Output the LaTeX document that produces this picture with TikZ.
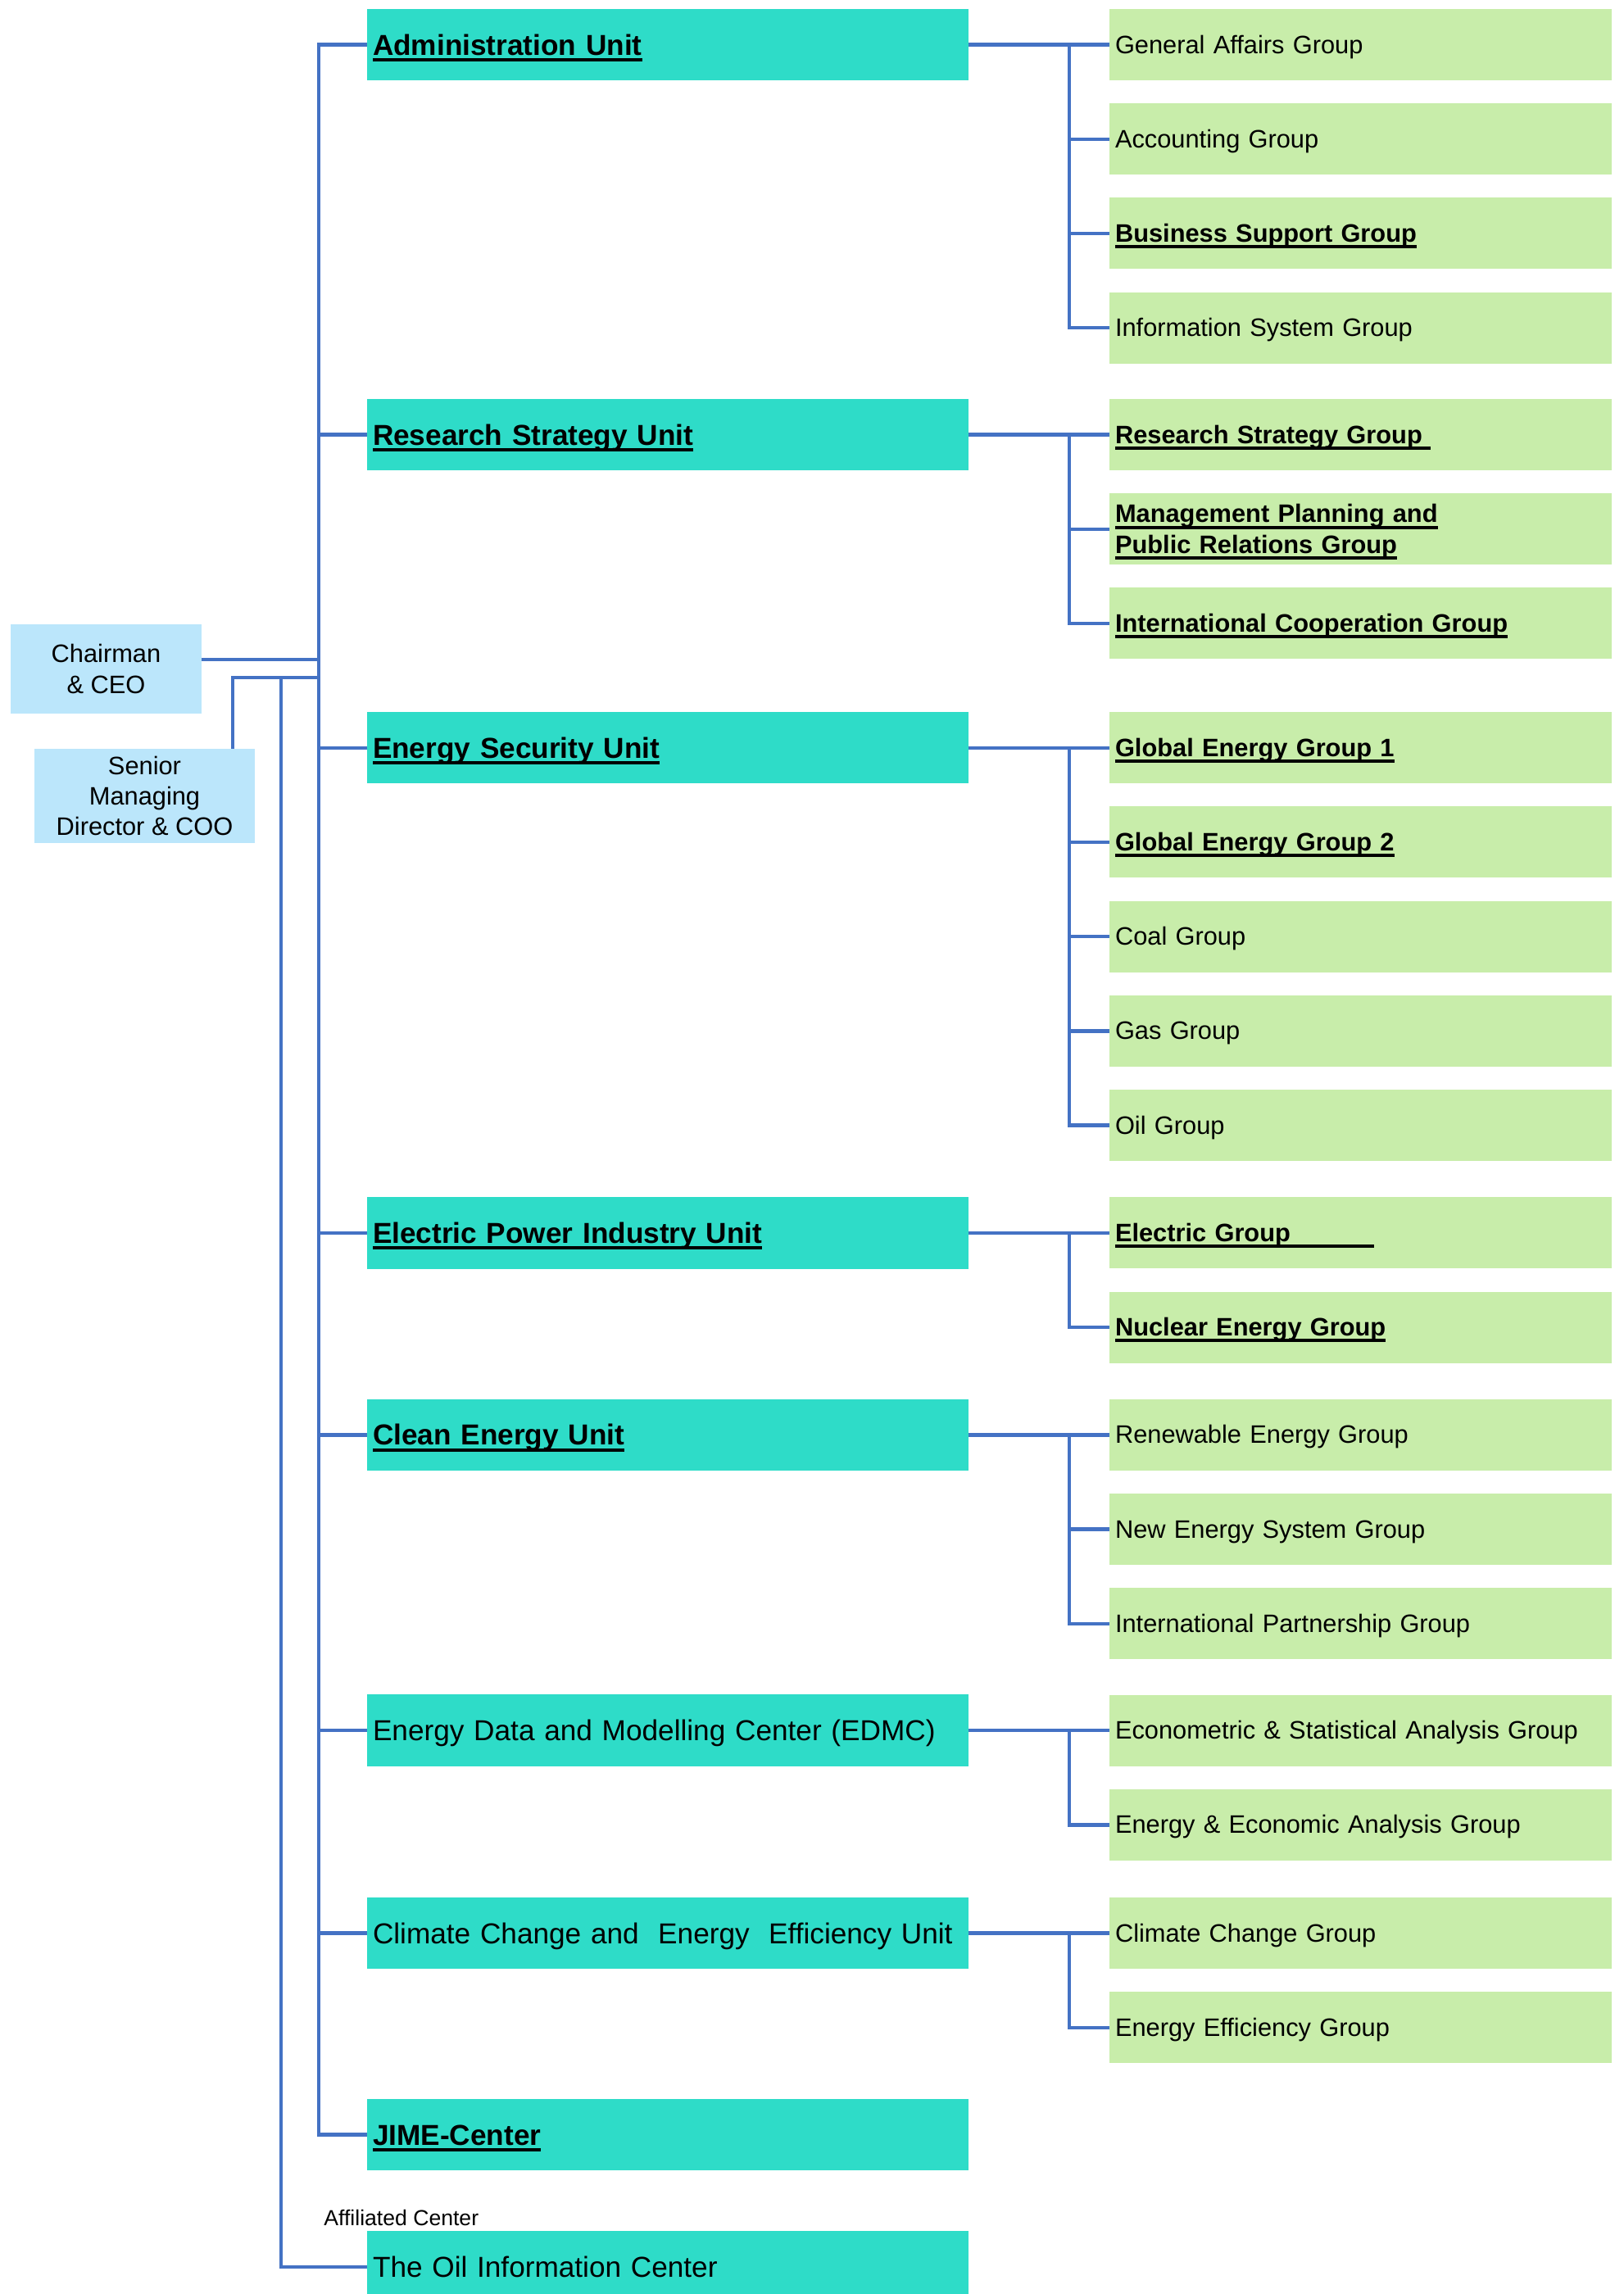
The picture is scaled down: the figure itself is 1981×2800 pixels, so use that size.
\documentclass[tikz,border=0pt]{standalone}
\usepackage{fontspec}
\setmainfont{Liberation Sans}
\usetikzlibrary{positioning}
\definecolor{headblue}{HTML}{BBE6FB}
\definecolor{unitteal}{HTML}{2EDCC8}
\definecolor{grpgreen}{HTML}{C8EDAA}
\definecolor{linkblue}{HTML}{4472C4}
\newcommand{\ulin}[1]{\leavevmode\setbox0=\hbox{#1}\rlap{\raisebox{-3.8pt}[0pt][0pt]{\rule{\wd0}{1.9pt}}}\box0}

\begin{document}
\begin{tikzpicture}[x=0.5pt, y=-0.5pt, node distance=57.6pt and 422.75pt, on grid,
	headbox/.style={rectangle, fill=headblue, align=center, font=\fontsize{15.4pt}{18.7pt}\selectfont},
	unitbox/.style={rectangle, fill=unitteal, minimum height=43.75pt, inner xsep=3.5pt, text width=360pt, align=left, font=\fontsize{17.6pt}{21pt}\selectfont, execute at begin node={\rule[-4.4pt]{0pt}{21.4pt}}},
	grpbox/.style={rectangle, fill=grpgreen, minimum height=43.5pt, inner xsep=3.5pt, text width=299.5pt, align=left, font=\fontsize{15.4pt}{18.6pt}\selectfont, execute at begin node={\rule[-3.4pt]{0pt}{17.4pt}}},
	link/.style={draw=linkblue, line width=2.2pt}]

\useasboundingbox (0,0) rectangle (1981,2800);

% Nodes
\node[headbox, minimum width=116.5pt, minimum height=54.5pt] (P0) at (129.5,816.5) {Chairman\\\& CEO};
\node[headbox, minimum width=134.5pt, minimum height=57.5pt] (P1) at (176.5,971.5) {Senior\\Managing\\Director \& COO};

\node[unitbox] (U1) at (815,54.5) {\bfseries\ulin{Administration Unit}};
\node[grpbox, right=of U1] (G11) {General Affairs Group};
\node[grpbox, below=of G11] (G12) {Accounting Group};
\node[grpbox, below=of G12] (G13) {\bfseries\ulin{Business Support Group}};
\node[grpbox, below=of G13] (G14) {Information System Group};

\node[unitbox] (U2) at (815,530.5) {\bfseries\ulin{Research Strategy Unit}};
\node[grpbox, right=of U2] (G21) {\bfseries\ulin{Research Strategy Group\ }};
\node[grpbox, below=of G21] (G22) {\bfseries\ulin{Management Planning and}\\\ulin{Public Relations Group}};
\node[grpbox, below=of G22] (G23) {\bfseries\ulin{International Cooperation Group}};

\node[unitbox] (U3) at (815,912.7) {\bfseries\ulin{Energy Security Unit}};
\node[grpbox, right=of U3] (G31) {\bfseries\ulin{Global Energy Group 1}};
\node[grpbox, below=of G31] (G32) {\bfseries\ulin{Global Energy Group 2}};
\node[grpbox, below=of G32] (G33) {Coal Group};
\node[grpbox, below=of G33] (G34) {Gas Group};
\node[grpbox, below=of G34] (G35) {Oil Group};

\node[unitbox] (U4) at (815,1504.8) {\bfseries\ulin{Electric Power Industry Unit}};
\node[grpbox, right=of U4] (G41) {\bfseries\ulin{\makebox[158pt][l]{Electric Group}}};
\node[grpbox, below=of G41] (G42) {\bfseries\ulin{Nuclear Energy Group}};

\node[unitbox] (U5) at (815,1751.3) {\bfseries\ulin{Clean Energy Unit}};
\node[grpbox, right=of U5] (G51) {Renewable Energy Group};
\node[grpbox, below=of G51] (G52) {New Energy System Group};
\node[grpbox, below=of G52] (G53) {International Partnership Group};

\node[unitbox] (U6) at (815,2112.1) {Energy Data and Modelling Center (EDMC)};
\node[grpbox, right=of U6] (G61) {Econometric \& Statistical Analysis Group};
\node[grpbox, below=of G61] (G62) {Energy \& Economic Analysis Group};

\node[unitbox] (U7) at (815,2359.5) {Climate Change and\ \ Energy\ \ Efficiency Unit};
\node[grpbox, right=of U7] (G71) {Climate Change Group};
\node[grpbox, below=of G71] (G72) {Energy Efficiency Group};

\node[unitbox] (U8) at (815,2605.5) {\bfseries\ulin{JIME-Center}};
\node[unitbox] (U9) at (815,2767) {The Oil Information Center};
\node[anchor=west, inner sep=0pt, font=\fontsize{13.3pt}{16pt}\selectfont] (A0) at (395,2707) {Affiliated Center};

\coordinate (bus) at (389,0);
\coordinate (sub) at (1305,0);
\coordinate (J1) at (284,827);
\coordinate (J2) at (343,827);

% Connections
\draw[link] (U1.west) -- (U1.west -| bus) -- (U8.west -| bus) -- (U8.west);
\draw[link] (U2.west -| bus) -- (U2.west);
\draw[link] (U3.west -| bus) -- (U3.west);
\draw[link] (U4.west -| bus) -- (U4.west);
\draw[link] (U5.west -| bus) -- (U5.west);
\draw[link] (U6.west -| bus) -- (U6.west);
\draw[link] (U7.west -| bus) -- (U7.west);
\draw[link] ([yshift=5.75pt]P0.east) -- ([yshift=5.75pt]P0.east -| bus);
\draw[link] (J1 |- P1.north) -- (J1) -- (J1 -| bus);
\draw[link] (J2) |- (U9.west);

\draw[link] (U1.east) -- (G11.west);
\draw[link] (G11.west -| sub) |- (G14.west);
\draw[link] (G12.west -| sub) -- (G12.west);
\draw[link] (G13.west -| sub) -- (G13.west);

\draw[link] (U2.east) -- (G21.west);
\draw[link] (G21.west -| sub) |- (G23.west);
\draw[link] (G22.west -| sub) -- (G22.west);

\draw[link] (U3.east) -- (G31.west);
\draw[link] (G31.west -| sub) |- (G35.west);
\draw[link] (G32.west -| sub) -- (G32.west);
\draw[link] (G33.west -| sub) -- (G33.west);
\draw[link] (G34.west -| sub) -- (G34.west);

\draw[link] (U4.east) -- (G41.west);
\draw[link] (G41.west -| sub) |- (G42.west);

\draw[link] (U5.east) -- (G51.west);
\draw[link] (G51.west -| sub) |- (G53.west);
\draw[link] (G52.west -| sub) -- (G52.west);

\draw[link] (U6.east) -- (G61.west);
\draw[link] (G61.west -| sub) |- (G62.west);

\draw[link] (U7.east) -- (G71.west);
\draw[link] (G71.west -| sub) |- (G72.west);
\end{tikzpicture}
\end{document}
